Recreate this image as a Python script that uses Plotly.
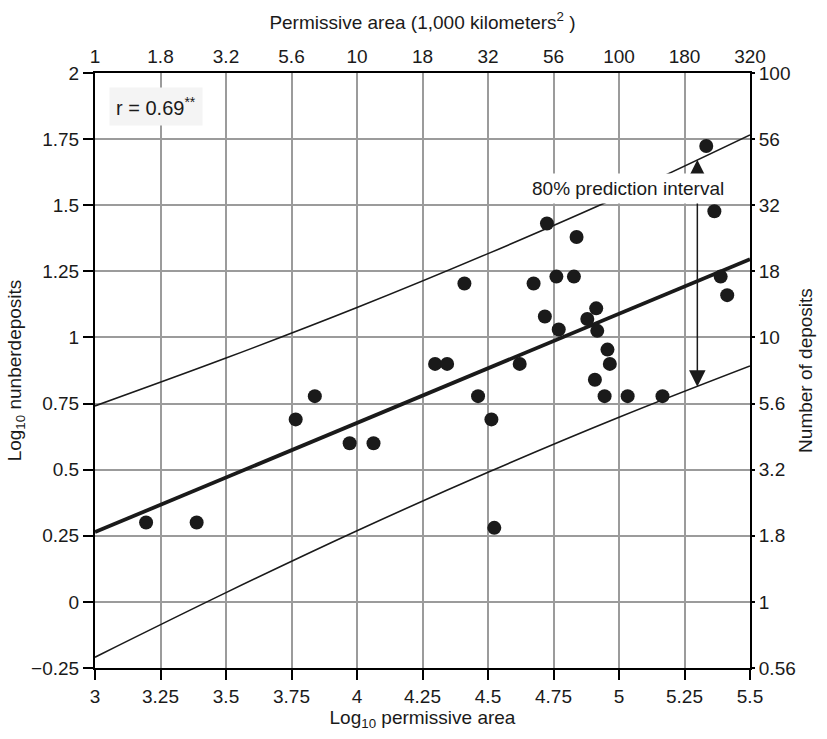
import plotly.graph_objects as go

# ---- data ----
log_area = [3.195, 3.388, 3.766, 3.839, 3.972, 4.063, 4.298, 4.344, 4.462, 4.513, 4.524,
            4.410, 4.621, 4.674, 4.717, 4.725, 4.761, 4.770, 4.828, 4.838, 4.879, 4.908,
            4.913, 4.917, 4.945, 4.956, 4.965, 5.033, 5.166, 5.333, 5.364, 5.388, 5.413]
log_deposits = [0.30, 0.30, 0.69, 0.778, 0.60, 0.60, 0.90, 0.90, 0.778, 0.69, 0.28,
                1.204, 0.90, 1.204, 1.079, 1.431, 1.23, 1.03, 1.23, 1.38, 1.07, 0.84,
                1.11, 1.025, 0.778, 0.954, 0.90, 0.778, 0.778, 1.724, 1.477, 1.23, 1.16]

reg_x = [3.0, 5.5]
reg_y = [0.264, 1.296]
band_x = [3.0, 3.5, 4.0, 4.5, 5.0, 5.5]
upper_y = [0.741, 0.922, 1.113, 1.317, 1.533, 1.766]
lower_y = [-0.209, 0.035, 0.269, 0.490, 0.698, 0.892]

x_ticks = [3, 3.25, 3.5, 3.75, 4, 4.25, 4.5, 4.75, 5, 5.25, 5.5]
x_labels = ["3", "3.25", "3.5", "3.75", "4", "4.25", "4.5", "4.75", "5", "5.25", "5.5"]
top_labels = ["1", "1.8", "3.2", "5.6", "10", "18", "32", "56", "100", "180", "320"]
y_ticks = [-0.25, 0, 0.25, 0.5, 0.75, 1, 1.25, 1.5, 1.75, 2]
y_labels = ["\u22120.25", "0", "0.25", "0.5", "0.75", "1", "1.25", "1.5", "1.75", "2"]
right_labels = ["0.56", "1", "1.8", "3.2", "5.6", "10", "18", "32", "56", "100"]

FONT = "Liberation Sans, Arial, Helvetica, sans-serif"
GRID = "#9b9b9b"
INK = "#1a1a1a"
FS = 19

fig = go.Figure()
fig.add_trace(go.Scatter(x=band_x, y=upper_y, mode="lines",
                         line=dict(color=INK, width=1.6, shape="spline", smoothing=1.0), hoverinfo="skip"))
fig.add_trace(go.Scatter(x=band_x, y=lower_y, mode="lines",
                         line=dict(color=INK, width=1.6, shape="spline", smoothing=1.0), hoverinfo="skip"))
fig.add_trace(go.Scatter(x=reg_x, y=reg_y, mode="lines", line=dict(color=INK, width=3.8), hoverinfo="skip"))
fig.add_trace(go.Scatter(x=log_area, y=log_deposits, mode="markers",
                         marker=dict(color=INK, size=14, line=dict(width=0))))
# invisible trace to anchor the secondary axes
fig.add_trace(go.Scatter(x=[3, 5.5], y=[-0.25, 2], xaxis="x2", yaxis="y2", mode="markers",
                         marker=dict(opacity=0), hoverinfo="skip"))

axis_common = dict(showline=True, linecolor="black", linewidth=2, zeroline=False,
                   tickfont=dict(family=FONT, size=FS, color=INK))

fig.update_layout(
    width=827, height=739,
    margin=dict(l=95, r=77, t=73, b=71),
    paper_bgcolor="white", plot_bgcolor="white",
    showlegend=False,
    font=dict(family=FONT, size=FS, color=INK),
    xaxis=dict(range=[3, 5.5], tickvals=x_ticks, ticktext=x_labels, ticks="outside", ticklen=10,
               tickwidth=2, tickcolor="black", showgrid=True, gridcolor=GRID, gridwidth=2,
               title=dict(text="Log<sub>10</sub> permissive area", font=dict(size=FS), standoff=4),
               **axis_common),
    xaxis2=dict(range=[3, 5.5], overlaying="x", side="top", tickvals=x_ticks,
                ticktext=top_labels, ticks="", showgrid=False,
                title=dict(text="Permissive area (1,000 kilometers<sup>2</sup> )", font=dict(size=FS), standoff=12),
                **axis_common),
    yaxis=dict(range=[-0.25, 2], tickvals=y_ticks, ticktext=y_labels, ticks="outside", ticklen=10,
               tickwidth=2, tickcolor="black", showgrid=True, gridcolor=GRID, gridwidth=2,
               title=dict(text="Log<sub>10</sub> nunberdeposits", font=dict(size=FS), standoff=4),
               **axis_common),
    yaxis2=dict(range=[-0.25, 2], overlaying="y", side="right", anchor="x", tickvals=y_ticks,
                ticktext=right_labels, ticks="outside", ticklen=3, tickwidth=2, tickcolor="black",
                showgrid=False,
                title=dict(text="Number of deposits", font=dict(size=FS), standoff=4),
                **axis_common),
)

# double-headed arrow for the prediction interval
fig.add_annotation(x=5.299, y=1.672, ax=5.299, ay=0.808, xref="x", yref="y", axref="x", ayref="y",
                   text="", showarrow=True, arrowhead=2, startarrowhead=2, arrowside="end+start",
                   arrowsize=2.2, startarrowsize=2.2, arrowwidth=1.5, arrowcolor=INK)
fig.add_annotation(x=5.034, y=1.562, xref="x", yref="y", text="80% prediction interval",
                   showarrow=False, bgcolor="white", borderpad=4,
                   font=dict(family=FONT, size=FS, color=INK))
fig.add_annotation(x=3.232, y=1.872, xref="x", yref="y", text="r = 0.69<sup>**</sup>",
                   showarrow=False, bgcolor="#f4f4f4", borderpad=6,
                   font=dict(family=FONT, size=20, color=INK))

fig.write_html("out.html")
